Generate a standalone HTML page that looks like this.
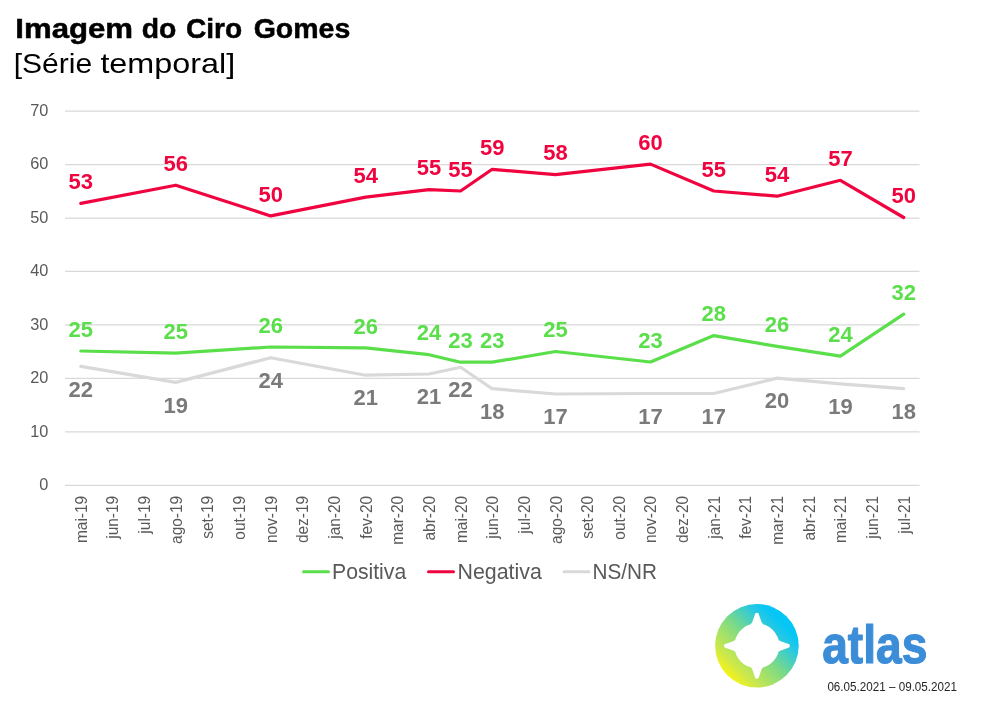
<!DOCTYPE html>
<html><head><meta charset="utf-8"><title>Imagem do Ciro Gomes</title><style>
html,body{margin:0;padding:0;background:#fff;}
body{width:1007px;height:706px;overflow:hidden;position:relative;}
svg{position:absolute;left:0;top:0;display:block;font-family:"Liberation Sans",Arial,sans-serif;}
.t1{font-size:28.3px;font-weight:bold;fill:#000;stroke:#000;stroke-width:0.5px;}
.t2{font-size:28.3px;fill:#000;}
.yl{font-size:16.3px;fill:#595959;}
.xl{font-size:15.8px;fill:#595959;}
.dl{font-size:22px;font-weight:bold;text-anchor:middle;}
.lg{font-size:22px;fill:#595959;}
.atl{font-size:53.5px;font-weight:bold;fill:#3C8DD8;stroke:#3C8DD8;stroke-width:1.2px;stroke-linejoin:round;}
.dt{font-size:12.3px;fill:#262626;}
</style></head><body>
<svg width="1007" height="706" viewBox="0 0 1007 706">
<text x="15.30" y="38.1" class="t1" textLength="117.80" lengthAdjust="spacingAndGlyphs">Imagem</text>
<text x="141.80" y="38.1" class="t1" textLength="34.60" lengthAdjust="spacingAndGlyphs">do</text>
<text x="186.00" y="38.1" class="t1" textLength="56.20" lengthAdjust="spacingAndGlyphs">Ciro</text>
<text x="253.70" y="38.1" class="t1" textLength="96.60" lengthAdjust="spacingAndGlyphs">Gomes</text>
<text x="13.70" y="72.5" class="t2" textLength="78.40" lengthAdjust="spacingAndGlyphs">[Série</text>
<text x="100.40" y="72.5" class="t2" textLength="134.80" lengthAdjust="spacingAndGlyphs">temporal]</text>
<text x="332.00" y="578.8" class="lg" textLength="74.20" lengthAdjust="spacingAndGlyphs">Positiva</text>
<text x="457.50" y="578.8" class="lg" textLength="84.40" lengthAdjust="spacingAndGlyphs">Negativa</text>
<text x="592.50" y="578.8" class="lg" textLength="64.50" lengthAdjust="spacingAndGlyphs">NS/NR</text>
<text x="822.20" y="663.3" class="atl" textLength="105.20" lengthAdjust="spacingAndGlyphs">atlas</text>
<text x="827.40" y="691" class="dt" textLength="129.60" lengthAdjust="spacingAndGlyphs">06.05.2021 – 09.05.2021</text>
<line x1="65.0" y1="485.30" x2="919.5" y2="485.30" stroke="#D9D9D9" stroke-width="1.25"/>
<line x1="65.0" y1="431.84" x2="919.5" y2="431.84" stroke="#D9D9D9" stroke-width="1.25"/>
<line x1="65.0" y1="378.38" x2="919.5" y2="378.38" stroke="#D9D9D9" stroke-width="1.25"/>
<line x1="65.0" y1="324.92" x2="919.5" y2="324.92" stroke="#D9D9D9" stroke-width="1.25"/>
<line x1="65.0" y1="271.46" x2="919.5" y2="271.46" stroke="#D9D9D9" stroke-width="1.25"/>
<line x1="65.0" y1="218.00" x2="919.5" y2="218.00" stroke="#D9D9D9" stroke-width="1.25"/>
<line x1="65.0" y1="164.54" x2="919.5" y2="164.54" stroke="#D9D9D9" stroke-width="1.25"/>
<line x1="65.0" y1="111.08" x2="919.5" y2="111.08" stroke="#D9D9D9" stroke-width="1.25"/>
<text x="48.3" y="490.10" text-anchor="end" class="yl">0</text>
<text x="48.3" y="436.64" text-anchor="end" class="yl">10</text>
<text x="48.3" y="383.18" text-anchor="end" class="yl">20</text>
<text x="48.3" y="329.72" text-anchor="end" class="yl">30</text>
<text x="48.3" y="276.26" text-anchor="end" class="yl">40</text>
<text x="48.3" y="222.80" text-anchor="end" class="yl">50</text>
<text x="48.3" y="169.34" text-anchor="end" class="yl">60</text>
<text x="48.3" y="115.88" text-anchor="end" class="yl">70</text>
<text transform="translate(86.82,495.8) rotate(-90) scale(0.98,1)" text-anchor="end" class="xl">mai-19</text>
<text transform="translate(118.47,495.8) rotate(-90) scale(0.98,1)" text-anchor="end" class="xl">jun-19</text>
<text transform="translate(150.12,495.8) rotate(-90) scale(0.98,1)" text-anchor="end" class="xl">jul-19</text>
<text transform="translate(181.77,495.8) rotate(-90) scale(0.98,1)" text-anchor="end" class="xl">ago-19</text>
<text transform="translate(213.42,495.8) rotate(-90) scale(0.98,1)" text-anchor="end" class="xl">set-19</text>
<text transform="translate(245.06,495.8) rotate(-90) scale(0.98,1)" text-anchor="end" class="xl">out-19</text>
<text transform="translate(276.71,495.8) rotate(-90) scale(0.98,1)" text-anchor="end" class="xl">nov-19</text>
<text transform="translate(308.36,495.8) rotate(-90) scale(0.98,1)" text-anchor="end" class="xl">dez-19</text>
<text transform="translate(340.01,495.8) rotate(-90) scale(0.98,1)" text-anchor="end" class="xl">jan-20</text>
<text transform="translate(371.66,495.8) rotate(-90) scale(0.98,1)" text-anchor="end" class="xl">fev-20</text>
<text transform="translate(403.31,495.8) rotate(-90) scale(0.98,1)" text-anchor="end" class="xl">mar-20</text>
<text transform="translate(434.95,495.8) rotate(-90) scale(0.98,1)" text-anchor="end" class="xl">abr-20</text>
<text transform="translate(466.60,495.8) rotate(-90) scale(0.98,1)" text-anchor="end" class="xl">mai-20</text>
<text transform="translate(498.25,495.8) rotate(-90) scale(0.98,1)" text-anchor="end" class="xl">jun-20</text>
<text transform="translate(529.90,495.8) rotate(-90) scale(0.98,1)" text-anchor="end" class="xl">jul-20</text>
<text transform="translate(561.55,495.8) rotate(-90) scale(0.98,1)" text-anchor="end" class="xl">ago-20</text>
<text transform="translate(593.19,495.8) rotate(-90) scale(0.98,1)" text-anchor="end" class="xl">set-20</text>
<text transform="translate(624.84,495.8) rotate(-90) scale(0.98,1)" text-anchor="end" class="xl">out-20</text>
<text transform="translate(656.49,495.8) rotate(-90) scale(0.98,1)" text-anchor="end" class="xl">nov-20</text>
<text transform="translate(688.14,495.8) rotate(-90) scale(0.98,1)" text-anchor="end" class="xl">dez-20</text>
<text transform="translate(719.79,495.8) rotate(-90) scale(0.98,1)" text-anchor="end" class="xl">jan-21</text>
<text transform="translate(751.44,495.8) rotate(-90) scale(0.98,1)" text-anchor="end" class="xl">fev-21</text>
<text transform="translate(783.08,495.8) rotate(-90) scale(0.98,1)" text-anchor="end" class="xl">mar-21</text>
<text transform="translate(814.73,495.8) rotate(-90) scale(0.98,1)" text-anchor="end" class="xl">abr-21</text>
<text transform="translate(846.38,495.8) rotate(-90) scale(0.98,1)" text-anchor="end" class="xl">mai-21</text>
<text transform="translate(878.03,495.8) rotate(-90) scale(0.98,1)" text-anchor="end" class="xl">jun-21</text>
<text transform="translate(909.68,495.8) rotate(-90) scale(0.98,1)" text-anchor="end" class="xl">jul-21</text>
<polyline points="80.8,366.4 175.8,382.4 270.7,357.7 365.7,375.2 429.0,374.0 460.6,367.2 492.2,388.7 555.5,394.0 650.5,393.5 713.8,393.5 777.1,378.1 840.4,383.8 903.7,388.6" fill="none" stroke="#D9D9D9" stroke-width="3.2" stroke-linejoin="round" stroke-linecap="round"/>
<polyline points="80.8,351.0 175.8,353.1 270.7,347.0 365.7,347.8 429.0,354.7 460.6,362.2 492.2,362.2 555.5,351.5 650.5,362.0 713.8,335.6 777.1,346.4 840.4,356.1 903.7,314.2" fill="none" stroke="#5ADF4A" stroke-width="3.2" stroke-linejoin="round" stroke-linecap="round"/>
<polyline points="80.8,203.4 175.8,185.2 270.7,215.9 365.7,197.1 429.0,189.6 460.6,191.0 492.2,169.3 555.5,174.6 650.5,164.1 713.8,191.0 777.1,196.2 840.4,180.3 903.7,217.5" fill="none" stroke="#F0043F" stroke-width="3.2" stroke-linejoin="round" stroke-linecap="round"/>
<text x="80.8" y="189.1" class="dl" fill="#F0043F">53</text>
<text x="175.8" y="170.9" class="dl" fill="#F0043F">56</text>
<text x="270.7" y="201.6" class="dl" fill="#F0043F">50</text>
<text x="365.7" y="182.8" class="dl" fill="#F0043F">54</text>
<text x="429.0" y="175.3" class="dl" fill="#F0043F">55</text>
<text x="460.6" y="176.7" class="dl" fill="#F0043F">55</text>
<text x="492.2" y="155.0" class="dl" fill="#F0043F">59</text>
<text x="555.5" y="160.3" class="dl" fill="#F0043F">58</text>
<text x="650.5" y="149.8" class="dl" fill="#F0043F">60</text>
<text x="713.8" y="176.7" class="dl" fill="#F0043F">55</text>
<text x="777.1" y="181.9" class="dl" fill="#F0043F">54</text>
<text x="840.4" y="166.0" class="dl" fill="#F0043F">57</text>
<text x="903.7" y="203.2" class="dl" fill="#F0043F">50</text>
<text x="80.8" y="336.7" class="dl" fill="#5ADF4A">25</text>
<text x="175.8" y="338.8" class="dl" fill="#5ADF4A">25</text>
<text x="270.7" y="332.7" class="dl" fill="#5ADF4A">26</text>
<text x="365.7" y="333.5" class="dl" fill="#5ADF4A">26</text>
<text x="429.0" y="340.4" class="dl" fill="#5ADF4A">24</text>
<text x="460.6" y="347.9" class="dl" fill="#5ADF4A">23</text>
<text x="492.2" y="347.9" class="dl" fill="#5ADF4A">23</text>
<text x="555.5" y="337.2" class="dl" fill="#5ADF4A">25</text>
<text x="650.5" y="347.7" class="dl" fill="#5ADF4A">23</text>
<text x="713.8" y="321.3" class="dl" fill="#5ADF4A">28</text>
<text x="777.1" y="332.1" class="dl" fill="#5ADF4A">26</text>
<text x="840.4" y="341.8" class="dl" fill="#5ADF4A">24</text>
<text x="903.7" y="299.9" class="dl" fill="#5ADF4A">32</text>
<text x="80.8" y="396.6" class="dl" fill="#7A7A7A">22</text>
<text x="175.8" y="412.6" class="dl" fill="#7A7A7A">19</text>
<text x="270.7" y="387.9" class="dl" fill="#7A7A7A">24</text>
<text x="365.7" y="405.4" class="dl" fill="#7A7A7A">21</text>
<text x="429.0" y="404.2" class="dl" fill="#7A7A7A">21</text>
<text x="460.6" y="397.4" class="dl" fill="#7A7A7A">22</text>
<text x="492.2" y="418.9" class="dl" fill="#7A7A7A">18</text>
<text x="555.5" y="424.2" class="dl" fill="#7A7A7A">17</text>
<text x="650.5" y="423.7" class="dl" fill="#7A7A7A">17</text>
<text x="713.8" y="423.7" class="dl" fill="#7A7A7A">17</text>
<text x="777.1" y="408.3" class="dl" fill="#7A7A7A">20</text>
<text x="840.4" y="414.0" class="dl" fill="#7A7A7A">19</text>
<text x="903.7" y="418.8" class="dl" fill="#7A7A7A">18</text>
<line x1="303.5" y1="571.8" x2="328.5" y2="571.8" stroke="#5ADF4A" stroke-width="3" stroke-linecap="round"/>
<line x1="428.5" y1="571.8" x2="453.5" y2="571.8" stroke="#F0043F" stroke-width="3" stroke-linecap="round"/>
<line x1="564" y1="571.8" x2="589" y2="571.8" stroke="#D9D9D9" stroke-width="3" stroke-linecap="round"/>
<defs><linearGradient id="lg1" gradientUnits="userSpaceOnUse" x1="725.5" y1="677.1" x2="788.2" y2="614.4"><stop offset="0.03" stop-color="#F5F315"/><stop offset="0.16" stop-color="#D0E948"/><stop offset="0.5" stop-color="#78D98A"/><stop offset="0.76" stop-color="#28C8E2"/><stop offset="0.88" stop-color="#05C6F5"/></linearGradient></defs>
<circle cx="756.9" cy="645.8" r="41.8" fill="url(#lg1)"/>
<g transform="translate(756.9,645.8)" fill="#fff">
<circle r="22.5"/>
<path d="M-6.60,-21.51 Q-5.00,-22.30 -4.60,-23.70 L-2.10,-30.90 A2.10,2.10 0 0 1 2.10,-30.90 L4.60,-23.70 Q5.00,-22.30 6.60,-21.51 Z"/>
<path d="M-6.60,-21.51 Q-5.00,-22.30 -4.60,-23.70 L-2.10,-30.90 A2.10,2.10 0 0 1 2.10,-30.90 L4.60,-23.70 Q5.00,-22.30 6.60,-21.51 Z" transform="rotate(90)"/>
<path d="M-6.60,-21.51 Q-5.00,-22.30 -4.60,-23.70 L-2.10,-30.90 A2.10,2.10 0 0 1 2.10,-30.90 L4.60,-23.70 Q5.00,-22.30 6.60,-21.51 Z" transform="rotate(180)"/>
<path d="M-6.60,-21.51 Q-5.00,-22.30 -4.60,-23.70 L-2.10,-30.90 A2.10,2.10 0 0 1 2.10,-30.90 L4.60,-23.70 Q5.00,-22.30 6.60,-21.51 Z" transform="rotate(270)"/>
</g>
</svg>
</body></html>
